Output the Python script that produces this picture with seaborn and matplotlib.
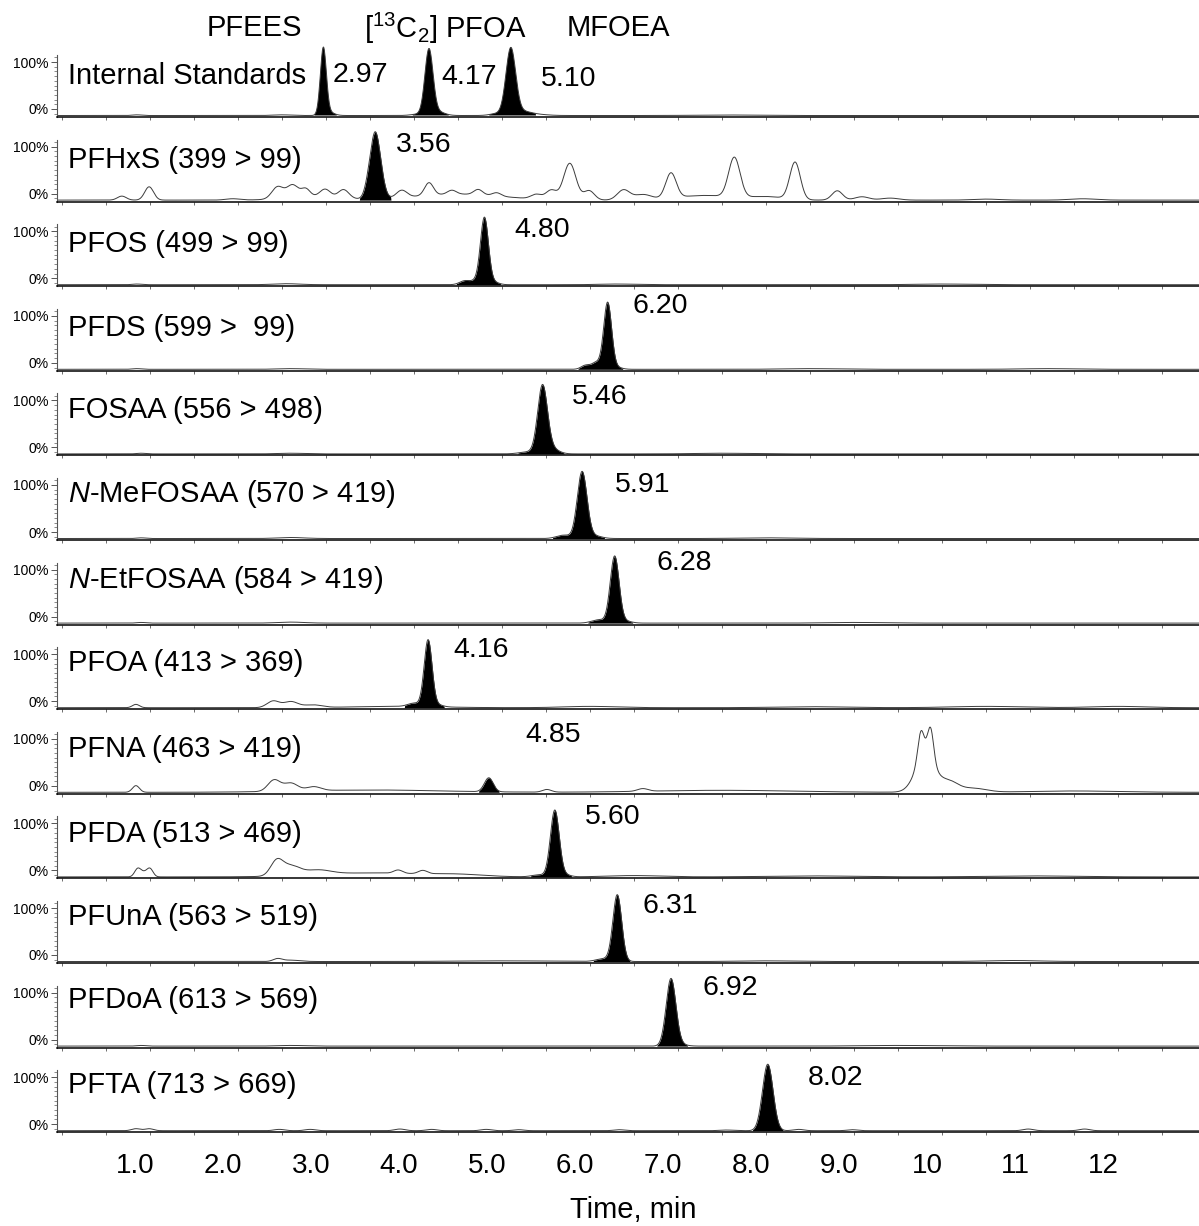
import numpy as np
import matplotlib
matplotlib.use('Agg')
import matplotlib.pyplot as plt
import seaborn as sns
from matplotlib.ticker import MultipleLocator, FixedLocator

sns.set_theme(style='white')
plt.rcParams['font.family'] = ['Liberation Sans', 'DejaVu Sans']
plt.rcParams['mathtext.fontset'] = 'custom'
plt.rcParams['mathtext.rm'] = 'Liberation Sans'
plt.rcParams['mathtext.it'] = 'Liberation Sans:italic'
plt.rcParams['text.color'] = 'black'
plt.rcParams['xtick.color'] = 'black'
plt.rcParams['ytick.color'] = 'black'

# ---- data (time in min, height relative to main peak) ----
panel_names = ['Internal Standards', 'PFHxS (399 > 99)', 'PFOS (499 > 99)', 'PFDS (599 >  99)',
               'FOSAA (556 > 498)', r'$\it{N}$-MeFOSAA (570 > 419)', r'$\it{N}$-EtFOSAA (584 > 419)',
               'PFOA (413 > 369)', 'PFNA (463 > 419)', 'PFDA (513 > 469)', 'PFUnA (563 > 519)',
               'PFDoA (613 > 569)', 'PFTA (713 > 669)']

rt_labels = [['2.97', '4.17', '5.10'], ['3.56'], ['4.80'], ['6.20'], ['5.46'], ['5.91'], ['6.28'],
             ['4.16'], ['4.85'], ['5.60'], ['6.31'], ['6.92'], ['8.02']]

standard_names = ['PFEES', r'[$^{13}$C$_{2}$] PFOA', 'MFOEA']

# integrated (black) peaks: (centre, height, width)
filled_peaks = [
    [(2.97, 1.0, .034), (3.03, .05, .06), (4.17, .97, .046), (4.26, .06, .08), (4.05, .02, .08),
     (5.10, .99, .055), (5.22, .06, .10), (4.95, .03, .08)],
    [(3.56, 1.0, .058), (3.47, .08, .04), (3.65, .05, .04)],
    [(4.80, 1.0, .045), (4.58, .06, .06), (4.70, .05, .05), (4.90, .04, .06)],
    [(6.20, 1.0, .045), (5.95, .06, .05), (6.07, .10, .05), (6.30, .03, .06)],
    [(5.46, 1.0, .055), (5.56, .08, .08), (5.30, .03, .10)],
    [(5.91, 1.0, .055), (5.70, .05, .08), (6.05, .04, .08)],
    [(6.28, 1.0, .050), (6.10, .05, .08), (6.40, .03, .07)],
    [(4.16, 1.0, .045), (4.00, .05, .07), (4.27, .03, .06)],
    [(4.85, .21, .050)],
    [(5.60, 1.0, .050), (5.42, .03, .08), (5.72, .03, .06)],
    [(6.31, 1.0, .050), (6.15, .04, .08)],
    [(6.92, 1.0, .055), (7.00, .03, .08)],
    [(8.02, 1.0, .060)],
]

# other signal in each trace (open line): (centre, height, width)
background = [
    [(0.85, .01, .05), (2.5, .01, .10), (5.4, .015, .12), (7.5, .008, .3)],
    [(0.68, .06, .05), (0.99, .20, .05), (1.94, .02, .08), (2.45, .18, .065), (2.62, .19, .065),
     (2.77, .12, .05), (2.99, .12, .06), (3.20, .13, .06), (2.85, .05, .30), (3.86, .11, .06),
     (4.17, .19, .05), (4.50, .09, .50), (4.43, .06, .05), (4.73, .08, .05), (4.94, .05, .05),
     (5.39, .07, .06), (5.56, .14, .06), (5.77, .55, .07), (5.99, .14, .06), (6.38, .15, .07),
     (6.60, .08, .10), (6.92, .38, .06), (7.30, .07, .30), (7.64, .60, .065), (8.00, .05, .20),
     (8.33, .56, .06), (8.81, .14, .06), (9.09, .05, .08), (9.41, .03, .10), (10.5, .015, .15),
     (11.6, .02, .15)],
    [(0.85, .01, .05), (2.55, .015, .15), (6.3, .01, .20), (10.0, .01, .3)],
    [(0.85, .01, .05), (2.6, .01, .15), (8.5, .01, .3), (11.2, .01, .3)],
    [(0.9, .01, .05), (2.6, .01, .15), (7.5, .01, .3)],
    [(0.9, .01, .05), (2.6, .015, .15), (8.0, .01, .3)],
    [(0.9, .01, .05), (2.6, .015, .15), (9.0, .01, .3)],
    [(0.84, .05, .04), (2.40, .10, .07), (2.60, .09, .08), (2.85, .04, .10), (3.8, .02, .5),
     (6.0, .02, .3), (8.5, .015, .4), (10.5, .02, .4), (12.0, .02, .3)],
    [(0.84, .10, .04), (2.41, .17, .07), (2.60, .12, .08), (2.86, .06, .08), (3.5, .035, .8),
     (5.51, .04, .05), (6.60, .04, .06), (7.5, .03, .8), (9.81, .55, .11), (9.76, .42, .035),
     (9.87, .48, .035), (10.08, .15, .10), (10.35, .06, .15), (11.5, .02, .5)],
    [(0.86, .12, .035), (1.00, .12, .035), (0.93, .06, .04), (2.44, .22, .07), (2.60, .14, .10),
     (2.90, .07, .15), (3.5, .06, .6), (3.82, .05, .05), (4.10, .05, .05), (4.5, .03, .3),
     (6.5, .02, .3), (8.5, .015, .5), (11.0, .015, .5)],
    [(2.45, .04, .05), (2.60, .02, .10), (5.0, .01, .5), (8.0, .01, .3), (10.8, .015, .3)],
    [(0.9, .01, .05), (2.6, .01, .15), (9.5, .01, .4)],
    [(0.84, .03, .05), (0.99, .03, .05), (2.47, .02, .06), (2.82, .02, .06), (3.84, .025, .06),
     (4.20, .02, .06), (4.82, .02, .06), (5.19, .015, .06), (6.33, .015, .06), (7.55, .01, .08),
     (8.37, .02, .06), (8.98, .015, .06), (10.98, .025, .06), (11.62, .025, .06)],
]

tick_labels = ['1.0', '2.0', '3.0', '4.0', '5.0', '6.0', '7.0', '8.0', '9.0', '10', '11', '12']

# ---- layout (pixels of the reference) ----
W_PX, H_PX = 1199, 1226
AX_LEFT, AX_RIGHT = 57, 1199
BOTTOM0, PITCH, AX_H = 117, 84.6, 72
X0_PX, PX_PER_MIN = 62, 88.0
UNIT_PX = 66.5
Y_LO = -1.5 / UNIT_PX
Y_HI = Y_LO + AX_H / UNIT_PX
TICK0, TICK100 = 6.5 / UNIT_PX, 53.5 / UNIT_PX
LABEL_SHIFT = 0.17   # printed time labels sit left of the true scale

label_y = [76, 160, 244, 328, 410, 494, 580, 663, 749, 834, 917, 1000, 1085]
rt_text_pos = [[(333, 75), (441, 77), (541, 79)], [(396, 145)], [(514, 230)], [(632, 306)],
               [(572, 397)], [(615, 485)], [(656, 563)], [(453, 650)], [(525, 735)],
               [(585, 817)], [(643, 906)], [(702, 988)], [(808, 1078)]]
std_text_x = [254, 445, 618]


def fx(px):
    return px / W_PX


def fy(py):
    return 1 - py / H_PX


def peak_sum(t, comps):
    y = np.zeros_like(t)
    for c, h, s in comps:
        y += h * np.exp(-0.5 * ((t - c) / s) ** 2)
    return y


fig = plt.figure(figsize=(W_PX / 100, H_PX / 100), dpi=100)
t = np.linspace((AX_LEFT - X0_PX) / PX_PER_MIN, (AX_RIGHT - X0_PX) / PX_PER_MIN, 3000)

n = len(panel_names)
for i in range(n):
    b = BOTTOM0 + PITCH * i
    ax = fig.add_axes([fx(AX_LEFT), fy(b), fx(AX_RIGHT) - fx(AX_LEFT), AX_H / H_PX])
    ax.patch.set_alpha(0)

    filled = peak_sum(t, filled_peaks[i])
    y = filled + peak_sum(t, background[i])
    ax.fill_between(t, 0, y, where=filled > 0.015, color='black', lw=0, interpolate=True)
    sns.lineplot(x=t, y=y, ax=ax, color='#3c3c3c', lw=0.7, estimator=None)

    ax.set_xlim(t[0], t[-1])
    ax.set_ylim(Y_LO, Y_HI)
    ax.set_xlabel('')
    ax.set_ylabel('')

    for side in ['top', 'right']:
        ax.spines[side].set_visible(False)
    ax.spines['bottom'].set_color('black')
    ax.spines['bottom'].set_linewidth(1.1)
    ax.spines['left'].set_color('#555555')
    ax.spines['left'].set_linewidth(0.8)
    ax.spines['left'].set_bounds(Y_LO, 60.5 / UNIT_PX)

    ax.set_yticks([TICK0, TICK100])
    ax.set_yticklabels(['0%', '100%'], fontsize=10)
    step = (TICK100 - TICK0) / 10
    ax.yaxis.set_minor_locator(FixedLocator(np.arange(TICK0 - step, 60.5 / UNIT_PX, step)))
    ax.tick_params(axis='y', which='major', length=4, width=0.7, direction='out', pad=2,
                   left=True, colors='#555555', labelcolor='black')
    ax.tick_params(axis='y', which='minor', length=2.5, width=0.6, direction='out',
                   left=True, colors='#777777')

    ax.xaxis.set_minor_locator(MultipleLocator(0.5))
    ax.tick_params(axis='x', which='minor', length=2.5, width=0.6, direction='out',
                   bottom=True, colors='#555555')
    if i == n - 1:
        ax.set_xticks([k + 1 - LABEL_SHIFT for k in range(len(tick_labels))])
        ax.set_xticklabels(tick_labels, fontsize=20)
        ax.tick_params(axis='x', which='major', length=0, pad=15, labelcolor='black')
    else:
        ax.set_xticks([])

    fig.text(fx(68), fy(label_y[i]), panel_names[i], fontsize=21, ha='left', va='center')
    for lab, (px, py) in zip(rt_labels[i], rt_text_pos[i]):
        fig.text(fx(px), fy(py), lab, fontsize=20.5, ha='left', va='center')

for name, px in zip(standard_names, std_text_x):
    fig.text(fx(px), fy(28), name, fontsize=21, ha='center', va='center')

fig.text(fx(633), fy(1218), 'Time, min', fontsize=21, ha='center', va='baseline')

fig.savefig('out.png', dpi=100)
